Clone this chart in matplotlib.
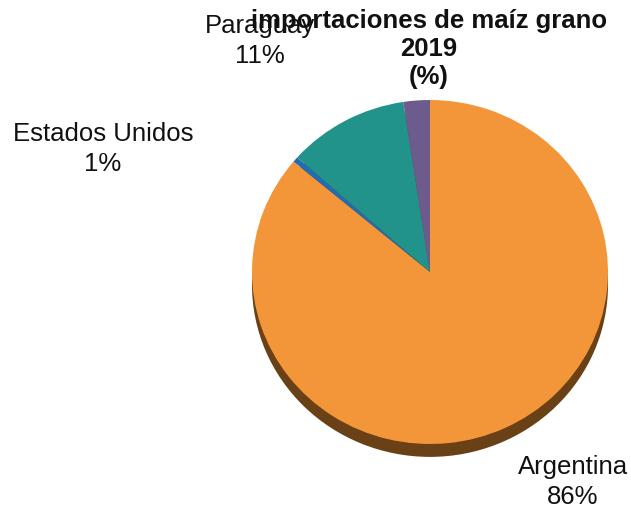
import matplotlib.pyplot as plt

plt.rcParams['font.family'] = ['Liberation Sans', 'DejaVu Sans']

# data (share of imports, %)
paises = ['Argentina', 'Estados Unidos', 'Paraguay', 'Otros']
valores = [86.1, 0.5, 11.0, 2.4]
etiquetas = ['86%', '1%', '11%', '']
colores = ['#F39639', '#1F6EB5', '#21938A', '#6E5B8D']

fig = plt.figure(figsize=(6.31, 5.08), dpi=100)
ax = fig.add_axes([0, 0, 1, 1])

# 3d-ish edge under the pie
ax.pie([1], colors=['#6A4116'], radius=1, center=(0, -0.075),
       startangle=90, wedgeprops=dict(linewidth=0))
ax.pie(valores, colors=colores, radius=1, center=(0, 0),
       startangle=90, counterclock=False,
       wedgeprops=dict(linewidth=0))

ax.set_aspect('auto')
ax.set_xlim(-430 / 178, (631 - 430) / 178)
ax.set_ylim((272 - 508) / 172, 272 / 172)
ax.axis('off')

# labels (pixel spots converted to data units)
pos = {'Argentina': (573, 482), 'Estados Unidos': (103, 149), 'Paraguay': (260, 41)}
for p, et in zip(paises, etiquetas):
    if p not in pos:
        continue
    px, py = pos[p]
    ax.text((px - 430) / 178, (272 - py) / 172, p + '\n' + et,
            ha='center', va='center', fontsize=18.5, linespacing=1.3,
            color='#111111')

ax.text((429 - 430) / 178, (272 - 49) / 172,
        'importaciones de maíz grano\n2019\n(%)',
        ha='center', va='center', fontsize=18.5, fontweight='bold',
        linespacing=1.2, color='#111111')

fig.savefig('out.png', dpi=100)
